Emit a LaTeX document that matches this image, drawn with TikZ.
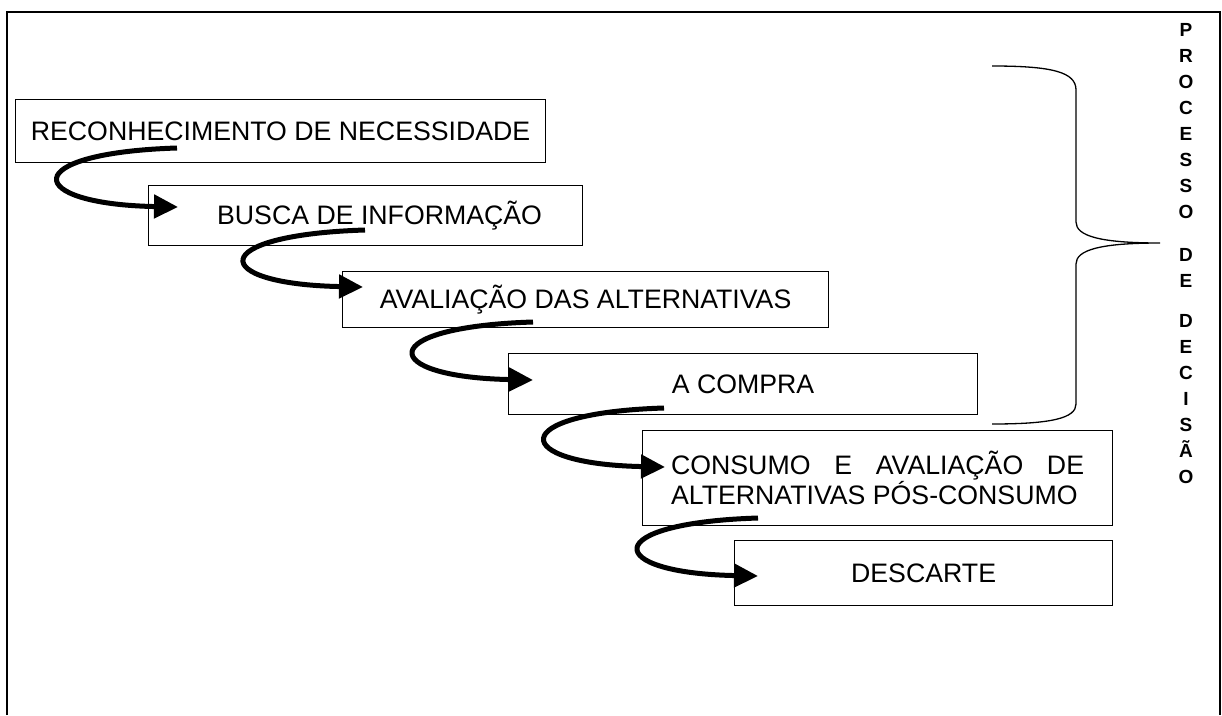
\documentclass[tikz,border=0pt]{standalone}
\usepackage{fontspec}
\setmainfont{Liberation Sans}
\usetikzlibrary{arrows.meta}

\tikzset{
  stage/.style={draw, line width=1.2pt, anchor=north west, inner sep=2pt,
    font=\fontsize{26.7}{30}\selectfont, align=center},
  turn/.style={line width=5pt, -{Triangle[length=24pt,width=23pt]}},
}

\begin{document}
\begin{tikzpicture}[x=1pt,y=-1pt]
  \useasboundingbox (0,0) rectangle (1222,715);
  \draw [line width=1.7pt] (7,715) -- (7,12) -- (1220,12) -- (1220,715);

  % the stages
  \node [stage, minimum width=530pt, minimum height=63pt] (rec) at (15,99) {RECONHECIMENTO DE NECESSIDADE};
  \node [stage, minimum width=434pt, minimum height=60pt] (busca) at (148,185) {\hspace*{28pt}BUSCA DE INFORMAÇÃO};
  \node [stage, minimum width=486pt, minimum height=56pt] (aval) at (342,271) {AVALIAÇÃO DAS ALTERNATIVAS};
  \node [stage, minimum width=469pt, minimum height=61pt] (compra) at (508,353) {A COMPRA};
  \node [stage, minimum width=470pt, minimum height=95pt, text width=413pt, align=justify] (consumo) at (642,430)
    {CONSUMO E AVALIAÇÃO DE\linebreak ALTERNATIVAS PÓS-CONSUMO};
  \node [stage, minimum width=378pt, minimum height=65pt] (descarte) at (734,540) {DESCARTE};

  % brace and vertical label
  \draw [line width=1.3pt] (992,66) .. controls (1052,66) and (1076,72) .. (1076,90)
    -- (1076,222) .. controls (1076,236) and (1100,243) .. (1160,243)
    .. controls (1100,243) and (1076,250) .. (1076,264)
    -- (1076,404) .. controls (1076,418) and (1052,424) .. (992,424);
  \node [font=\fontsize{19}{26}\selectfont\bfseries, align=center, inner sep=0pt, anchor=north] (proc) at (1186,23)
    {P\\R\\O\\C\\E\\S\\S\\O\\[17pt]D\\E\\[14pt]D\\E\\C\\I\\S\\Ã\\O};

  % turning arrows
  \coordinate (out1) at (177,148);
  \coordinate (in2) at (178,207);
  \coordinate (out2) at (365,230);
  \coordinate (in3) at (363,287);
  \coordinate (out3) at (533,322);
  \coordinate (in4) at (533,380);
  \coordinate (out4) at (664,408);
  \coordinate (in5) at (665,467);
  \coordinate (out5) at (758,518);
  \coordinate (in6) at (758,576);

  \draw [turn] (out1) .. controls +(-160,5) and +(-155,-3) .. (in2);
  \draw [turn] (out2) .. controls +(-160,5) and +(-155,-3) .. (in3);
  \draw [turn] (out3) .. controls +(-160,5) and +(-155,-3) .. (in4);
  \draw [turn] (out4) .. controls +(-160,5) and +(-155,-3) .. (in5);
  \draw [turn] (out5) .. controls +(-160,5) and +(-155,-3) .. (in6);
\end{tikzpicture}
\end{document}
